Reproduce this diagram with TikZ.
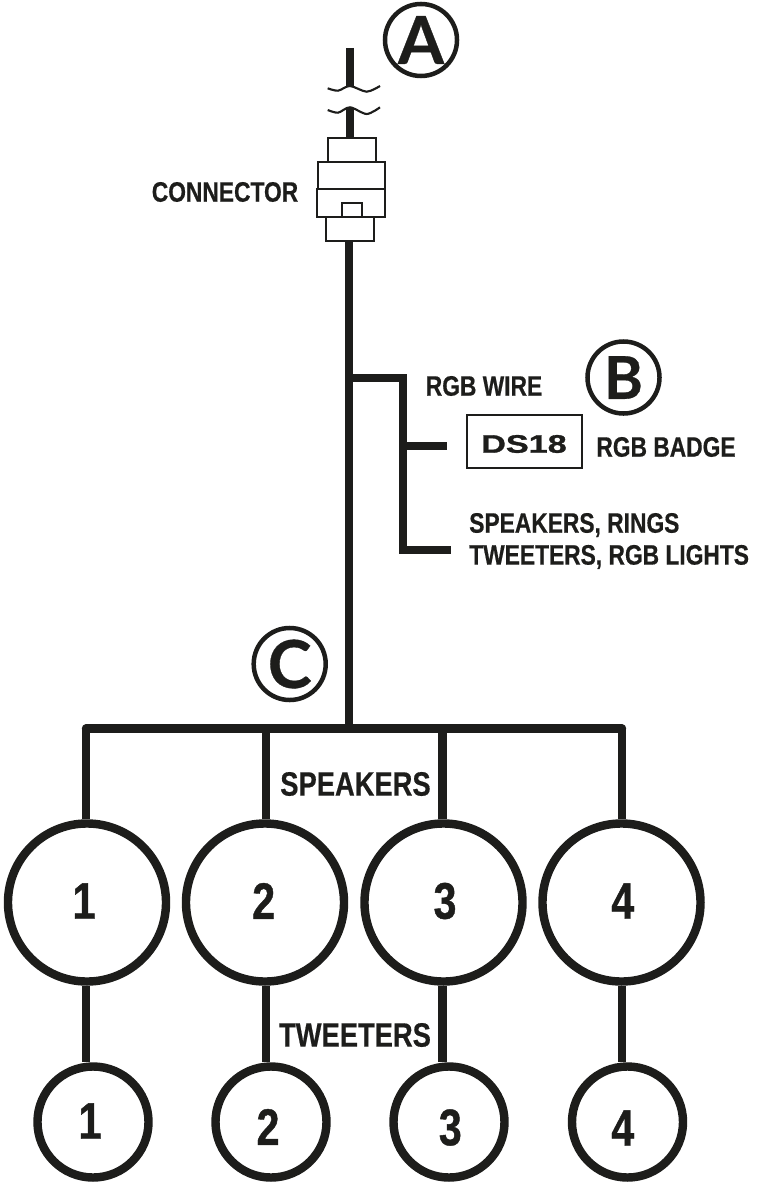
\documentclass[tikz,border=0pt]{standalone}
\usepackage{fontspec}
\setmainfont{Liberation Sans}
\newfontfamily\tagfont[FakeStretch=0.81,BoldFeatures={FakeBold=0.5}]{Liberation Sans}
\newfontfamily\numfont[FakeStretch=0.8,BoldFeatures={FakeBold=0.8}]{Liberation Sans}
\newfontfamily\logofont[FakeStretch=1.35,BoldFeatures={FakeBold=1.2}]{Liberation Sans}
\newfontfamily\letterfont[BoldFeatures={FakeBold=0.5}]{Lato}
\usepackage{tikz}
\definecolor{wireblack}{HTML}{1D1D1B}
\tikzset{
    wire/.style={draw=wireblack, line width=6pt},
    thinwire/.style={draw=wireblack, line width=1.5pt},
    plugbox/.style={
        rectangle,
        draw=wireblack,
        line width=1.6pt,
        inner sep=0pt
    },
    speaker/.style={
        circle,
        draw=wireblack,
        line width=6pt,
        minimum size=3.95cm,
        inner sep=0pt
    },
    tweeter/.style={
        circle,
        draw=wireblack,
        line width=6pt,
        minimum size=2.775cm,
        inner sep=0pt
    },
    marker/.style={
        circle,
        draw=wireblack,
        line width=3.2pt,
        minimum size=1.8cm,
        inner sep=0pt,
        text=wireblack,
        font={\letterfont\bfseries\fontsize{47pt}{47pt}\selectfont}
    },
    tag/.style={
        text=wireblack,
        inner sep=0pt,
        font={\tagfont\bfseries\fontsize{20pt}{22.7pt}\selectfont}
    },
    bigtag/.style={
        text=wireblack,
        inner sep=0pt,
        font={\tagfont\bfseries\fontsize{24pt}{26pt}\selectfont}
    },
    digit/.style={
        text=wireblack,
        inner sep=0pt,
        font={\numfont\bfseries\fontsize{36.6pt}{38pt}\selectfont}
    },
}
\begin{document}
\begin{tikzpicture}[x=0.025cm, y=-0.025cm]
\useasboundingbox (0,0) rectangle (760,1182);
% connector
\node(plugtop)[plugbox, minimum width=1.19cm, minimum height=0.6cm] at (352,150){};
\node(housingtop)[plugbox, minimum width=1.68cm, minimum height=0.68cm] at (351.3,175.5){};
\node(housinglow)[plugbox, minimum width=1.7cm, minimum height=0.69cm] at (351,203){};
\node(latch)[plugbox, minimum width=0.49cm, minimum height=0.35cm] at (352,209.7){};
\node(plugbottom)[plugbox, minimum width=1.2cm, minimum height=0.6cm] at (350,229){};
\node(connectortag)[tag] at (225,192){CONNECTOR};
% cut wire
\coordinate(wiretop) at (350,48);
\coordinate(cutup) at (350,87);
\coordinate(cutdown) at (350,108);
\draw[wire, line width=5pt] (wiretop) to (cutup);
\draw[wire, line width=5pt] (cutdown) to (plugtop.north -| cutdown);
\draw[thinwire] plot[smooth] coordinates {(327.7,88.3) (338,90.7) (350,86) (366.7,91.7) (380,86)};
\draw[thinwire] plot[smooth] coordinates {(327.7,110) (338,112.7) (350,107.3) (366.7,114) (380,107.3)};
% markers
\node(markerA)[marker] at (421,40){A};
\node(markerB)[marker, font={\letterfont\bfseries\fontsize{42pt}{42pt}\selectfont}] at (623.5,377.5){B};
\node(markerC)[marker] at (289.7,664){C};
% main wire and bus
\coordinate(busmain) at (349,728.5);
\coordinate(busa) at (86,728.5);
\coordinate(busb) at (266,728.5);
\coordinate(busc) at (442.5,728.5);
\coordinate(busd) at (622,728.5);
\draw[wire] (plugbottom.south -| busmain) to (busmain);
\draw[wire, line cap=round] (busa) to (busd);
% rgb branch
\coordinate(rgbtap) at (349,378);
\coordinate(rgbcorner) at (403,378);
\coordinate(rgbfork) at (403,446);
\coordinate(rgbstub) at (447,446);
\coordinate(rgbend) at (451,550);
\draw[wire] (rgbtap) -- (rgbcorner) |- (rgbend);
\draw[wire] (rgbfork) to (rgbstub);
\node(rgbwiretag)[tag] at (484,386){RGB WIRE};
\node(badge)[draw=wireblack, line width=1.5pt, minimum width=2.86cm, minimum height=1.33cm, inner sep=0pt] at (524.5,441.7){};
\node(logo)[text=wireblack, inner sep=0pt, font={\logofont\bfseries\fontsize{18pt}{18pt}\selectfont}] at (524,444){DS18};
\node(badgetag)[tag] at (666,447){RGB BADGE};
\node(ringstag)[tag, anchor=west, align=left] at (469,541){SPEAKERS, RINGS\\TWEETERS, RGB LIGHTS};
% speakers
\node(spkone)[speaker] at (87,902.5){};
\node(spktwo)[speaker] at (265,902.5){};
\node(spkthree)[speaker] at (443.5,902.5){};
\node(spkfour)[speaker] at (621.5,902.5){};
\node(spkonenum)[digit] at (84,901){1};
\node(spktwonum)[digit] at (263.7,901){2};
\node(spkthreenum)[digit] at (445,901){3};
\node(spkfournum)[digit] at (622.8,901){4};
\node(speakerstag)[bigtag] at (355.5,784){SPEAKERS};
% tweeters
\node(twtone)[tweeter] at (93,1122){};
\node(twttwo)[tweeter] at (271,1122){};
\node(twtthree)[tweeter] at (449,1122){};
\node(twtfour)[tweeter] at (627.5,1122){};
\node(twtonenum)[digit] at (90,1121){1};
\node(twttwonum)[digit] at (268,1127){2};
\node(twtthreenum)[digit] at (450.3,1127.5){3};
\node(twtfournum)[digit] at (622.8,1128){4};
\node(tweeterstag)[bigtag] at (355,1035){TWEETERS};
% drops
\draw[wire] (busa) to (busa |- spkone.north);
\draw[wire] (busb) to (busb |- spktwo.north);
\draw[wire] (busc) to (busc |- spkthree.north);
\draw[wire] (busd) to (busd |- spkfour.north);
\draw[wire] (busa |- spkone.south) to (busa |- twtone.north);
\draw[wire] (busb |- spktwo.south) to (busb |- twttwo.north);
\draw[wire] (busc |- spkthree.south) to (busc |- twtthree.north);
\draw[wire] (busd |- spkfour.south) to (busd |- twtfour.north);
\end{tikzpicture}
\end{document}
